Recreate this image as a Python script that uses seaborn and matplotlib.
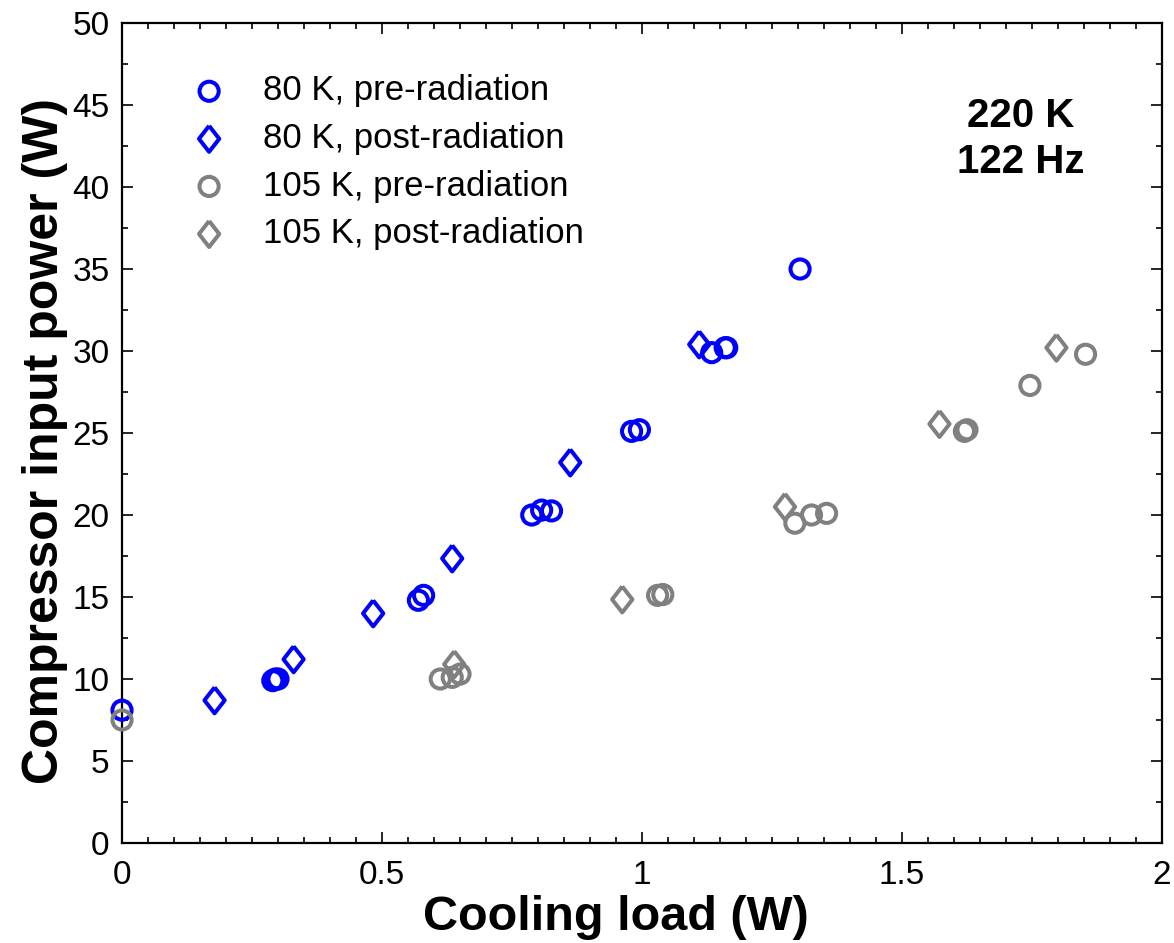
import matplotlib
matplotlib.use("Agg")
import matplotlib.pyplot as plt
import matplotlib.ticker as mticker
import seaborn as sns
import pandas as pd

# ---- data ----
pre80_x = [0.0, 0.29, 0.295, 0.30, 0.57, 0.58, 0.788, 0.807, 0.826, 0.980, 0.995, 1.134, 1.160, 1.163, 1.304]
pre80_y = [8.1, 9.9, 10.0, 10.0, 14.8, 15.1, 20.0, 20.3, 20.25, 25.1, 25.2, 29.9, 30.2, 30.2, 35.0]
post80_x = [0.178, 0.330, 0.483, 0.635, 0.862, 1.110]
post80_y = [8.7, 11.2, 14.0, 17.35, 23.2, 30.4]
pre105_x = [0.0, 0.612, 0.635, 0.650, 1.030, 1.040, 1.294, 1.326, 1.355, 1.620, 1.625, 1.746, 1.853]
pre105_y = [7.5, 10.0, 10.1, 10.3, 15.1, 15.15, 19.5, 20.0, 20.1, 25.1, 25.2, 27.9, 29.8]
post105_x = [0.639, 0.962, 1.275, 1.572, 1.797]
post105_y = [10.9, 14.85, 20.5, 25.55, 30.2]

labels = ["80 K, pre-radiation", "80 K, post-radiation",
          "105 K, pre-radiation", "105 K, post-radiation"]
xticks = [0, 0.5, 1, 1.5, 2]
xtick_labels = ["0", "0.5", "1", "1.5", "2"]
yticks = [0, 5, 10, 15, 20, 25, 30, 35, 40, 45, 50]

diamond = [(0, 1), (0.78, 0), (0, -1), (-0.78, 0), (0, 1)]

series = [
    (pre80_x, pre80_y, labels[0], "#0000FF", "o", 190),
    (post80_x, post80_y, labels[1], "#0000FF", diamond, 350),
    (pre105_x, pre105_y, labels[2], "#808080", "o", 190),
    (post105_x, post105_y, labels[3], "#808080", diamond, 350),
]

sns.set_theme(style="ticks")
plt.rcParams["font.family"] = ["Liberation Sans", "DejaVu Sans"]
plt.rcParams["text.color"] = "black"
plt.rcParams["axes.labelcolor"] = "black"

fig = plt.figure(figsize=(11.74, 9.43), dpi=100)
ax = fig.add_axes([122 / 1174, 100 / 943, 1040 / 1174, 820 / 943])

for xs, ys, lab, col, mk, sz in series:
    df = pd.DataFrame({"x": xs, "y": ys})
    sns.scatterplot(data=df, x="x", y="y", ax=ax, marker=mk, s=sz,
                    color=col, facecolors="none", edgecolors=col,
                    linewidths=2.9, label=lab, zorder=3, clip_on=False)

ax.set_xlim(0, 2)
ax.set_ylim(0, 50)
ax.set_xticks(xticks)
ax.set_xticklabels(xtick_labels)
ax.set_yticks(yticks)
ax.xaxis.set_minor_locator(mticker.MultipleLocator(0.05))
ax.yaxis.set_minor_locator(mticker.MultipleLocator(2.5))
ax.tick_params(which="both", direction="in", top=True, right=True,
               width=1.2, colors="black", labelcolor="black")
ax.tick_params(which="major", length=8, labelsize=24)
ax.tick_params(axis="y", which="major", pad=9)
ax.tick_params(axis="x", which="major", pad=12)
ax.tick_params(which="minor", length=4)
for sp in ax.spines.values():
    sp.set_linewidth(1.6)
    sp.set_color("black")

ax.set_xlabel("Cooling load (W)", fontsize=35, fontweight="bold", labelpad=3)
ax.set_ylabel("Compressor input power (W)", fontsize=36, fontweight="bold", labelpad=3)
ax.xaxis.label.set_x(0.475)
ax.yaxis.label.set_y(0.49)

ax.text(0.864, 0.887, "220 K", transform=ax.transAxes, ha="center", va="center",
        fontsize=29, fontweight="bold")
ax.text(0.864, 0.831, "122 Hz", transform=ax.transAxes, ha="center", va="center",
        fontsize=29, fontweight="bold")

leg = ax.legend(loc="upper left", bbox_to_anchor=(0.027, 0.967), frameon=False,
                fontsize=25, handletextpad=0.55, labelspacing=0.42,
                markerscale=1.0, borderaxespad=0.3)

fig.savefig("out.png", dpi=100)
